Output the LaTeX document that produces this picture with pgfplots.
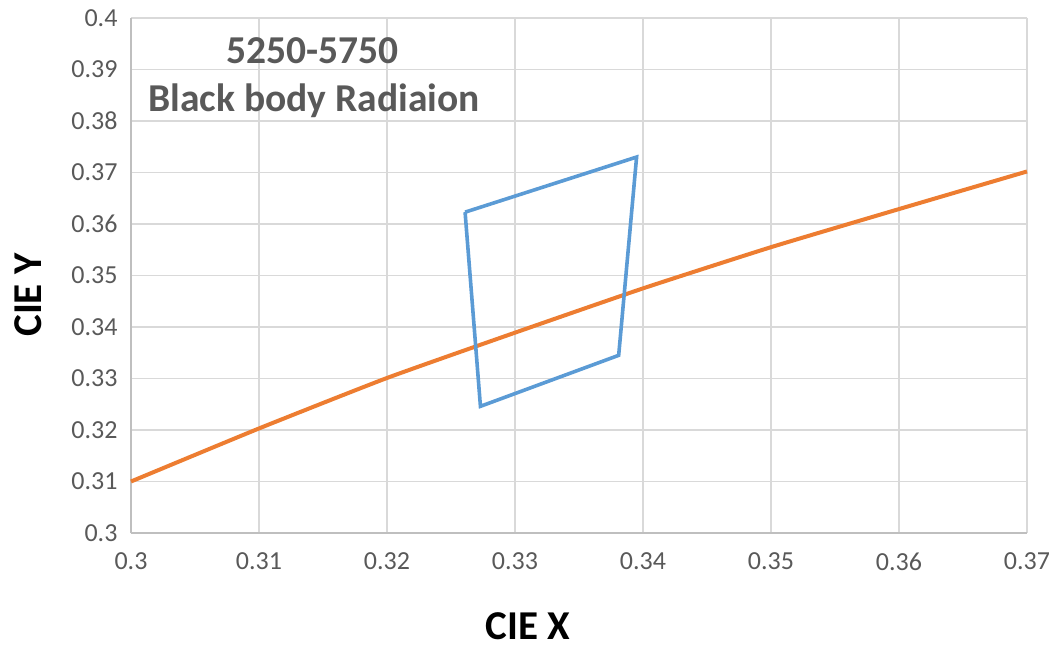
\documentclass[border=0pt]{standalone}
\usepackage{pgfplots}
\pgfplotsset{compat=1.18}
\usepackage{fontspec}
\setmainfont{Carlito}
\definecolor{gridc}{HTML}{D9D9D9}
\definecolor{axisc}{HTML}{BFBFBF}
\definecolor{tickc}{HTML}{595959}
\definecolor{blueq}{HTML}{5B9BD5}
\definecolor{orangel}{HTML}{ED7D31}
\begin{document}
\begin{tikzpicture}
\useasboundingbox (-131pt,-116pt) rectangle (918pt,533pt);
\begin{axis}[
  at={(0,0)}, anchor=south west,
  scale only axis, width=896pt, height=515pt,
  xmin=0.3, xmax=0.37, ymin=0.3, ymax=0.4,
  xtick={0.3,0.31,0.32,0.33,0.34,0.35,0.36,0.37},
  xticklabels={0.3,0.31,0.32,0.33,0.34,0.35,0.36,0.37},
  ytick={0.3,0.31,0.32,0.33,0.34,0.35,0.36,0.37,0.38,0.39,0.4},
  yticklabels={0.3,0.31,0.32,0.33,0.34,0.35,0.36,0.37,0.38,0.39,0.4},
  /pgf/number format/assume math mode=true,
  major tick length=0pt,
  axis lines=left,
  axis line style={-, draw=axisc, line width=1.8pt},
  grid=major,
  major grid style={draw=gridc, line width=1.8pt},
  tick label style={font=\fontsize{26}{30}\selectfont, text=tickc},
  xticklabel style={yshift=-16pt},
  yticklabel style={xshift=-10pt},
  xlabel={CIE X}, ylabel={CIE Y},
  label style={font=\bfseries\fontsize{41}{46}\selectfont, text=black, inner sep=0pt},
  xlabel style={at={(axis description cs:0.443,-0.207)}, anchor=base},
  ylabel style={at={(axis description cs:-0.115,0.462)}, anchor=center},
  clip=false,
]
\addplot[orangel, line width=4pt, smooth, tension=0.3] coordinates {
  (0.30,0.3100) (0.31,0.3203) (0.32,0.3301) (0.33,0.3389)
  (0.34,0.3475) (0.35,0.3555) (0.36,0.3629) (0.37,0.3702)
};
\addplot[blueq, line width=3.6pt, line join=miter] coordinates {
  (0.3261,0.3623) (0.3395,0.3730) (0.3381,0.3345) (0.3273,0.3246) (0.3261,0.3623)
};
\node[font=\bfseries\fontsize{39.5}{44}\selectfont, text=tickc] at (axis cs:0.3142,0.3937) {5250-5750};
\node[font=\bfseries\fontsize{39.5}{44}\selectfont, text=tickc] at (axis cs:0.3143,0.3840) {Black body Radiaion};
\end{axis}
\end{tikzpicture}
\end{document}
